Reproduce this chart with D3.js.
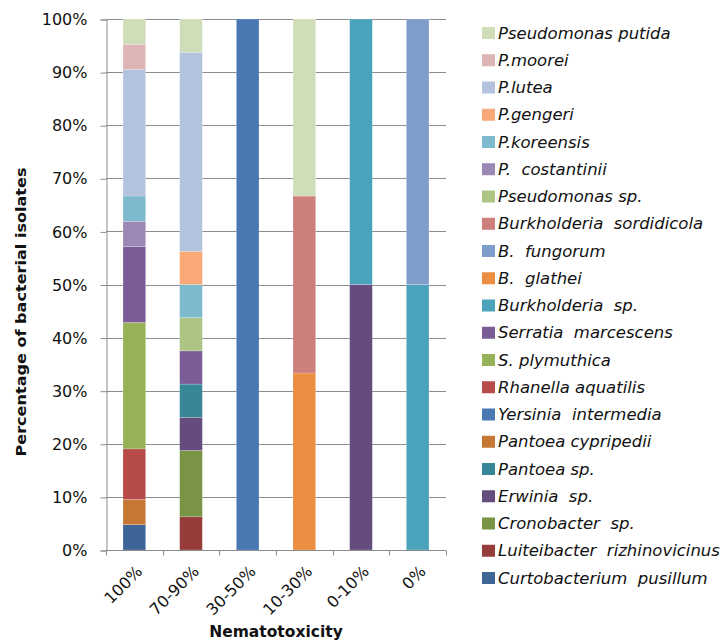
<!DOCTYPE html>
<html>
<head>
<meta charset="utf-8">
<script src="https://cdn.jsdelivr.net/npm/d3@7"></script>
<style>
  body { margin: 0; background: #fff; }
  svg { display: block; }
</style>
</head>
<body>
<div id="chart"></div>
<script>
// Nematotoxicity classes (x axis)
const categories = ["100%", "70-90%", "30-50%", "10-30%", "0-10%", "0%"];

// Species, stacked from the bottom up
const species = [
    "Curtobacterium  pusillum", "Luiteibacter  rizhinovicinus", "Cronobacter  sp.", "Erwinia  sp.",
    "Pantoea sp.", "Pantoea cypripedii", "Yersinia  intermedia", "Rhanella aquatilis",
    "S. plymuthica", "Serratia  marcescens", "Burkholderia  sp.", "B.  glathei",
    "B.  fungorum", "Burkholderia  sordidicola", "Pseudomonas sp.", "P.  costantinii",
    "P.koreensis", "P.gengeri", "P.lutea", "P.moorei", "Pseudomonas putida"
];

const colors = [
    "#3d6596", "#963d3b", "#799445", "#644c7e", "#388798", "#c57733", "#4a78b3",
    "#b74b49", "#96b157", "#7a5c97", "#4aa3bb", "#eb8e42", "#7f9dcb", "#cd7f7e",
    "#adc584", "#9c88b4", "#7ebace", "#f8a977", "#b4c3dd", "#ddb5b5", "#d0ddb9"
];

// Share of isolates (%) per species, one value per category
const values = [
    [4.76, 0, 0, 0, 0, 0],        // Curtobacterium pusillum
    [0, 6.25, 0, 0, 0, 0],        // Luiteibacter rizhinovicinus
    [0, 12.5, 0, 0, 0, 0],        // Cronobacter sp.
    [0, 6.25, 0, 0, 50, 0],       // Erwinia sp.
    [0, 6.25, 0, 0, 0, 0],        // Pantoea sp.
    [4.76, 0, 0, 0, 0, 0],        // Pantoea cypripedii
    [0, 0, 100, 0, 0, 0],         // Yersinia intermedia
    [9.52, 0, 0, 0, 0, 0],        // Rhanella aquatilis
    [23.81, 0, 0, 0, 0, 0],       // S. plymuthica
    [14.29, 6.25, 0, 0, 0, 0],    // Serratia marcescens
    [0, 0, 0, 0, 50, 50],         // Burkholderia sp.
    [0, 0, 0, 33.33, 0, 0],       // B. glathei
    [0, 0, 0, 0, 0, 50],          // B. fungorum
    [0, 0, 0, 33.33, 0, 0],       // Burkholderia sordidicola
    [0, 6.25, 0, 0, 0, 0],        // Pseudomonas sp.
    [4.76, 0, 0, 0, 0, 0],        // P. costantinii
    [4.76, 6.25, 0, 0, 0, 0],     // P. koreensis
    [0, 6.25, 0, 0, 0, 0],        // P. gengeri
    [23.81, 37.5, 0, 0, 0, 0],    // P. lutea
    [4.76, 0, 0, 0, 0, 0],        // P. moorei
    [4.76, 6.25, 0, 33.34, 0, 0]  // Pseudomonas putida
];

const yTicks = [0, 0.1, 0.2, 0.3, 0.4, 0.5, 0.6, 0.7, 0.8, 0.9, 1];

const width = 720, height = 644;
const plot = {left: 106, right: 446, top: 19, bottom: 550};
const textColor = "#111111";

const svg = d3.select("#chart")
    .append("svg")
    .attr("width", width)
    .attr("height", height);

// Build rows for the stack: one row per category
const rows = categories.map((c, i) => {
    const row = {category: c};
    species.forEach((s, j) => { row[s] = values[j][i]; });
    return row;
});

const stack = d3.stack()
    .keys(species)
    .offset(d3.stackOffsetExpand);
const stacked = stack(rows);

// Scales
const xScale = d3.scaleBand()
    .domain(categories)
    .range([plot.left, plot.right])
    .paddingInner(0.6)
    .paddingOuter(0.3);

const yScale = d3.scaleLinear()
    .domain([0, 1])
    .range([plot.bottom, plot.top]);

// Gridlines
svg.append("g")
    .selectAll("line")
    .data(yTicks.slice(1))
    .enter()
    .append("line")
    .attr("x1", plot.left)
    .attr("x2", plot.right)
    .attr("y1", d => Math.round(yScale(d)) + 0.5)
    .attr("y2", d => Math.round(yScale(d)) + 0.5)
    .attr("stroke", "#8c8c8c")
    .attr("stroke-width", 1);

// Bars
svg.append("g")
    .selectAll("g")
    .data(stacked)
    .enter()
    .append("g")
    .attr("fill", (d, i) => colors[i])
    .selectAll("rect")
    .data(d => d.filter(p => p[1] - p[0] > 0))
    .enter()
    .append("rect")
    .attr("x", d => xScale(d.data.category))
    .attr("width", xScale.bandwidth())
    .attr("y", d => yScale(d[1]))
    .attr("height", d => yScale(d[0]) - yScale(d[1]))
    .attr("stroke", "#ffffff")
    .attr("stroke-opacity", 0.4)
    .attr("stroke-width", 0.5);

// Y axis
const yAxis = d3.axisLeft(yScale)
    .tickValues(yTicks)
    .tickFormat(d3.format(".0%"))
    .tickSize(6)
    .tickPadding(13);

const yAxisG = svg.append("g")
    .attr("transform", "translate(" + (plot.left + 0.5) + ",0.5)")
    .call(yAxis);

yAxisG.select(".domain").attr("stroke", "#8c8c8c");
yAxisG.selectAll(".tick line").attr("stroke", "#8c8c8c");
yAxisG.selectAll(".tick text")
    .attr("font-family", "DejaVu Sans, Verdana, sans-serif")
    .attr("font-size", "16px")
    .attr("fill", textColor);

// X axis
const xAxisG = svg.append("g")
    .attr("transform", "translate(0," + (plot.bottom + 0.5) + ")");

xAxisG.append("line")
    .attr("x1", plot.left)
    .attr("x2", plot.right)
    .attr("stroke", "#8c8c8c");

xAxisG.selectAll(".xtick")
    .data(d3.range(categories.length + 1))
    .enter()
    .append("line")
    .attr("class", "xtick")
    .attr("x1", i => Math.round(plot.left + i * xScale.step()) + 0.5)
    .attr("x2", i => Math.round(plot.left + i * xScale.step()) + 0.5)
    .attr("y1", 0)
    .attr("y2", 5)
    .attr("stroke", "#8c8c8c");

xAxisG.selectAll(".xlabel")
    .data(categories)
    .enter()
    .append("text")
    .attr("class", "xlabel")
    .attr("text-anchor", "end")
    .attr("font-family", "DejaVu Sans, Verdana, sans-serif")
    .attr("font-size", "16px")
    .attr("fill", textColor)
    .attr("transform", d => "translate(" + (xScale(d) + xScale.bandwidth() / 2 + 9) + ",22) rotate(-45)")
    .text(d => d);

// Axis titles
svg.append("text")
    .attr("text-anchor", "middle")
    .attr("x", (plot.left + plot.right) / 2)
    .attr("y", 637)
    .attr("font-family", "DejaVu Sans, Verdana, sans-serif")
    .attr("font-weight", "bold")
    .attr("font-size", "15.5px")
    .attr("fill", textColor)
    .text("Nematotoxicity");

svg.append("text")
    .attr("text-anchor", "middle")
    .attr("transform", "translate(26,312) rotate(-90)")
    .attr("font-family", "DejaVu Sans, sans-serif")
    .attr("font-stretch", "condensed")
    .attr("font-weight", "bold")
    .attr("font-size", "14.5px")
    .attr("textLength", 289)
    .attr("lengthAdjust", "spacingAndGlyphs")
    .attr("fill", textColor)
    .text("Percentage of bacterial isolates");

// Legend, top entry is the last series
const legendItems = species.map((s, i) => ({name: s, color: colors[i]})).reverse();

const legend = svg.append("g")
    .attr("transform", "translate(482,27)");

const item = legend.selectAll("g")
    .data(legendItems)
    .enter()
    .append("g")
    .attr("transform", (d, i) => "translate(0," + (i * 27.25) + ")");

item.append("rect")
    .attr("width", 13)
    .attr("height", 12)
    .attr("fill", d => d.color);

item.append("text")
    .attr("transform", "translate(16,11.5) scale(1.1,1)")
    .attr("font-family", "DejaVu Sans, Verdana, sans-serif")
    .attr("font-style", "italic")
    .attr("font-size", "15px")
    .attr("fill", textColor)
    .attr("xml:space", "preserve")
    .style("white-space", "pre")
    .text(d => d.name);
</script>
</body>
</html>
